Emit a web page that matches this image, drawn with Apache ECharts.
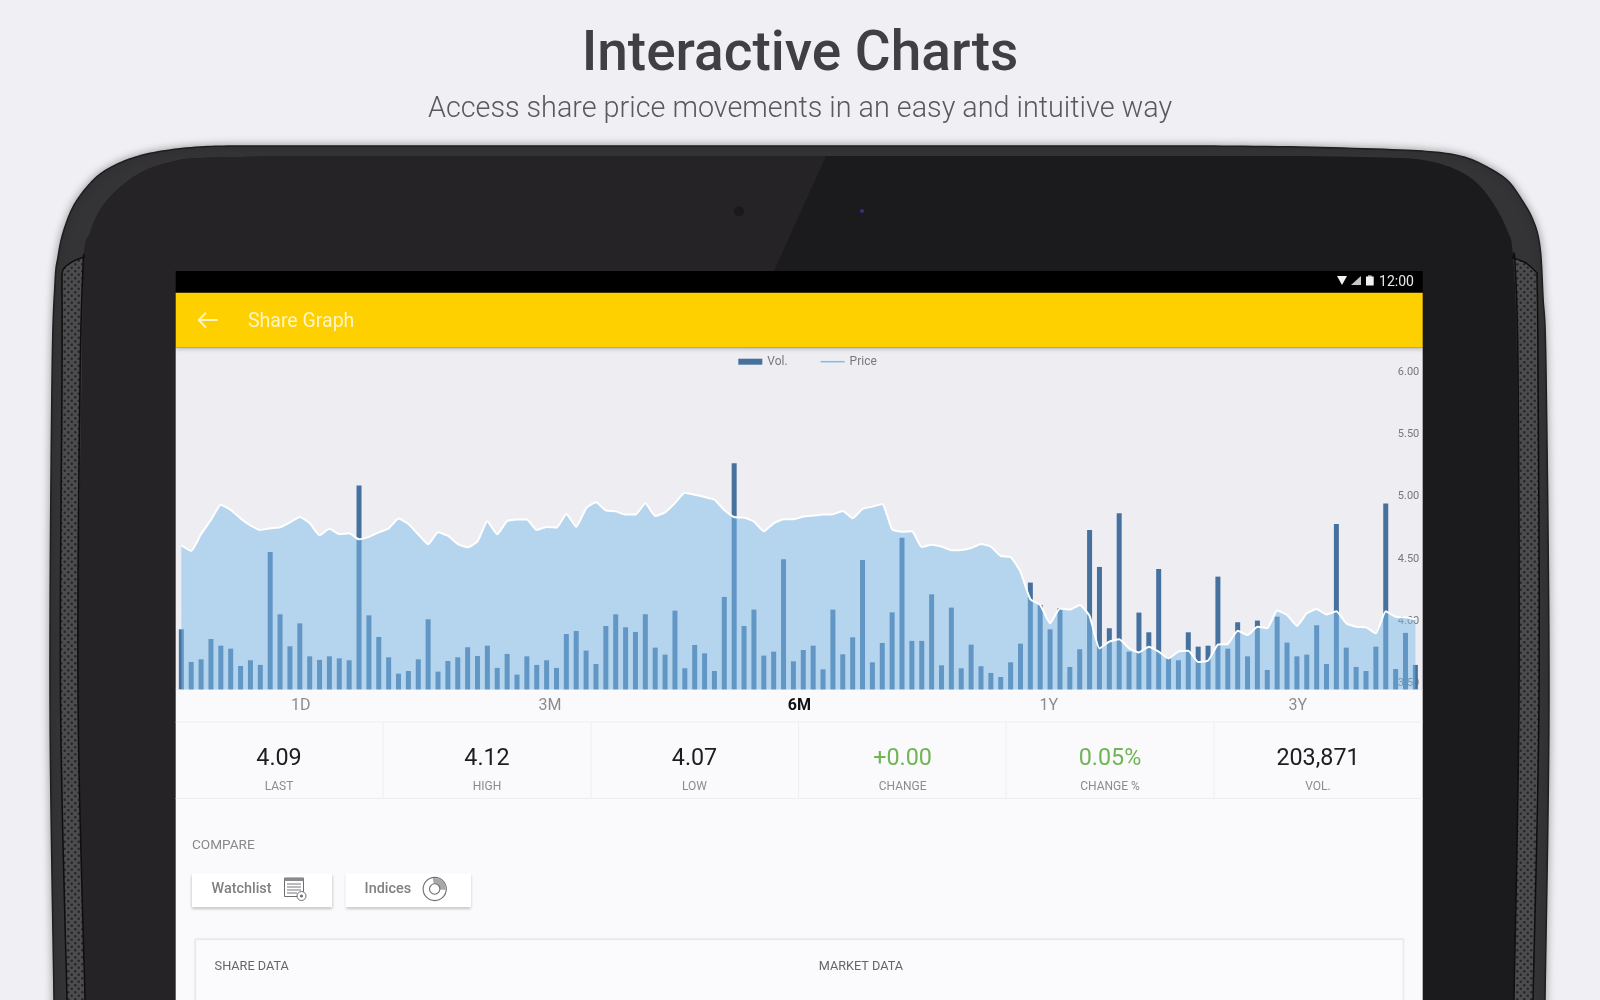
<!DOCTYPE html>
<html>
<head>
<meta charset="utf-8">
<title>Interactive Charts</title>
<script src="https://cdn.jsdelivr.net/npm/echarts@6/dist/echarts.min.js"></script>
<style>
html,body{margin:0;padding:0;background:#f0eff3;}
#chart{width:1600px;height:1000px;}
</style>
</head>
<body>
<div id="chart"></div>
<script>
// ---------- chart data ----------
const prices = [4.61,4.564,4.70,4.813,4.936,4.893,4.826,4.77,4.733,4.746,4.754,4.794,4.837,4.789,4.69,4.743,4.70,4.706,4.658,4.677,4.714,4.746,4.824,4.781,4.698,4.618,4.714,4.687,4.62,4.594,4.642,4.802,4.698,4.805,4.816,4.816,4.733,4.757,4.751,4.861,4.757,4.907,4.955,4.89,4.882,4.856,4.856,4.947,4.845,4.874,4.949,5.032,5.016,4.997,4.976,4.893,4.837,4.832,4.80,4.722,4.786,4.818,4.818,4.84,4.848,4.856,4.858,4.885,4.826,4.901,4.92,4.941,4.738,4.719,4.722,4.596,4.615,4.599,4.57,4.572,4.588,4.62,4.599,4.524,4.516,4.398,4.177,4.131,3.984,4.104,4.094,4.131,4.043,3.783,3.837,3.856,3.783,3.751,3.797,3.757,3.703,3.757,3.765,3.674,3.685,3.813,3.818,3.925,3.89,3.957,3.944,4.086,4.051,3.963,4.064,4.099,4.054,4.08,3.984,3.957,3.952,3.904,4.08,4.037,4.032,4.016];
const volumes = [502,229,251,421,365,340,195,243,204,1149,628,360,552,276,246,276,259,243,1705,619,438,268,131,153,251,586,148,237,268,352,279,365,179,296,123,276,204,243,179,463,488,324,212,530,628,519,480,628,349,290,658,176,371,301,153,773,1892,530,667,282,315,1088,234,329,365,167,667,293,435,1083,226,388,644,1269,405,405,795,201,684,176,374,193,137,103,226,382,893,706,502,678,187,335,1334,1024,511,1473,315,642,477,1007,259,243,477,357,365,943,340,561,276,575,162,608,391,276,290,536,212,1384,349,187,153,357,1554,170,472,204];
const sessions = prices.map((_, i) => String(i + 1));
const priceTicks = [3.5, 4, 4.5, 5, 5.5, 6];
const ranges = ['1D', '3M', '6M', '1Y', '3Y'];
const activeRange = '6M';
const statValues = ['4.09', '4.12', '4.07', '+0.00', '0.05%', '203,871'];
const statLabels = ['LAST', 'HIGH', 'LOW', 'CHANGE', 'CHANGE %', 'VOL.'];

// ---------- helpers ----------
const FF = 'Roboto, "Noto Sans", sans-serif';
const curve = (p) => { // Catmull-Rom sampling for the device outline
  const out = [];
  for (let i = 0; i < p.length - 1; i++) {
    const a = p[Math.max(i - 1, 0)], b = p[i], c = p[i + 1], d = p[Math.min(i + 2, p.length - 1)];
    for (let k = 0; k < 10; k++) {
      const t = k / 10, t2 = t * t, t3 = t2 * t;
      out.push([0, 1].map(j => 0.5 * (2 * b[j] + (c[j] - a[j]) * t + (2 * a[j] - 5 * b[j] + 4 * c[j] - d[j]) * t2 + (3 * b[j] - a[j] - 3 * c[j] + d[j]) * t3)));
    }
  }
  out.push(p[p.length - 1]);
  return out;
};
const T = (text, x, y, font, fill, align) => ({type: 'text', z: 0, silent: true, style: {text, x, y, font: font + ' ' + FF, fill, textAlign: align || 'center', textVerticalAlign: 'middle'}});
const R = (x, y, w, h, fill, extra) => ({type: 'rect', z: 0, silent: true, shape: {x, y, width: w, height: h}, style: Object.assign({fill}, extra || {})});
const L = (x1, y1, x2, y2, stroke, w) => ({type: 'line', z: 0, silent: true, shape: {x1, y1, x2, y2}, style: {stroke, lineWidth: w || 1}});
const P = (points, style) => ({type: 'polygon', z: 0, silent: true, shape: {points}, style});
const C = (cx, cy, r, style) => ({type: 'circle', z: 0, silent: true, shape: {cx, cy, r}, style});

// speaker grille pattern
const pat = document.createElement('canvas');
pat.width = 7; pat.height = 7;
(function () {
  const g = pat.getContext('2d');
  g.fillStyle = '#4c4b4d'; g.fillRect(0, 0, 7, 7);
  g.fillStyle = '#262527';
  [[1.75, 1.75], [5.25, 5.25]].forEach(d => { g.beginPath(); g.arc(d[0], d[1], 1.25, 0, 7); g.fill(); });
})();
const grille = {image: pat, repeat: 'repeat'};

// ---------- device outline ----------
const outer = curve([[54,1010],[54,1000],[50,700],[52,380],[55,283],[58,257],[63,233],[73,207],[87,187],[103,172],[127,160],[157,152],[200,147],[250,146],[400,146]])
  .concat(curve([[1200,146],[1300,147],[1400,150],[1443,153],[1467,158],[1487,167],[1507,180],[1520,197],[1533,220],[1540,247],[1543,297],[1546,370],[1549,700],[1545,1000],[1545,1010]]));
const faceL = curve([[85,1010],[85,1000],[78,700],[82,380],[84,258],[90,233],[100,210],[117,190],[140,173],[167,163],[200,158],[300,156]]);
const faceR = curve([[1300,156],[1400,158],[1433,162],[1457,170],[1477,183],[1493,203],[1507,230],[1513,257],[1517,370],[1519,700],[1514,1000],[1514,1010]]);
const spkL = curve([[62,283],[63,270],[72,262],[84,257]]).concat(curve([[84,257],[83,267],[80,380],[78,700],[85,1000],[85,1010]])).concat(curve([[67,1010],[67,1000],[60.5,700],[62,380],[62,283]]));
const spkR = curve([[1513,258],[1526,263],[1537,273]]).concat(curve([[1537,273],[1538,370],[1539,700],[1533,1000],[1533,1010]])).concat(curve([[1514,1010],[1514,1000],[1519,700],[1518,370],[1515,263],[1513,258]]));

const sx = 175.7, sr = 1422.7, sw = sr - sx;
const elements = [
  P(outer, {fill: '#343335', stroke: '#1e1d1f', lineWidth: 1.5, shadowBlur: 8, shadowColor: 'rgba(0,0,0,0.35)'}),
  P(faceL.concat(faceR), {fill: '#1b1a1c'}),
  P(faceL.concat([[826,156],[774,271],[500,1010]]), {fill: '#252326'}),
  P(spkL, {fill: grille, stroke: '#0e0e0f', lineWidth: 1.5}),
  P(spkR, {fill: grille, stroke: '#0e0e0f', lineWidth: 1.5}),
  C(739, 211.5, 5, {fill: '#1a191b'}),
  C(862, 211, 2, {fill: '#3b2d86'}),
  // screen
  R(sx, 271, sw, 22, '#000000'),
  R(sx, 347.7, sw, 342, '#eeedf2'),
  R(sx, 689.3, sw, 311, '#faf9fb'),
  R(sx, 292.7, sw, 55, '#ffd000', {shadowBlur: 4, shadowColor: 'rgba(0,0,0,0.25)', shadowOffsetY: 1}),
  // status bar
  P([[1337,276],[1347,276],[1342,285]], {fill: '#f2f2f2'}),
  P([[1351,285],[1361,276],[1361,285]], {fill: '#c8c8c8'}),
  R(1366, 276.5, 7.7, 9, '#f2f2f2'),
  R(1368, 275.5, 3.7, 1.2, '#f2f2f2'),
  T('12:00', 1396.5, 282.2, '14px', '#e8e8e8'),
  // app bar
  {type: 'polyline', z: 0, silent: true, shape: {points: [[206,312.7],[198.8,320],[206,327.6]]}, style: {stroke: '#fff4c4', lineWidth: 2, fill: null}},
  L(199, 320, 217.7, 320, '#fff4c4', 2),
  T('Share Graph', 248, 321.7, '19.5px', '#fff5c8', 'left'),
  // stats rows
  L(sx, 722, sr, 722, '#eeedf0'),
  L(sx, 798.5, sr, 798.5, '#eeedf0'),
  L(383, 722, 383, 798, '#efeef1'), L(591, 722, 591, 798, '#efeef1'), L(798.6, 722, 798.6, 798, '#efeef1'),
  L(1006, 722, 1006, 798, '#efeef1'), L(1214, 722, 1214, 798, '#efeef1'),
  // compare
  T('COMPARE', 192, 846, '13.6px', '#88888a', 'left'),
  R(192, 873.3, 140, 34, '#ffffff', {shadowBlur: 3, shadowColor: 'rgba(0,0,0,0.3)', shadowOffsetY: 1.5}),
  R(345.5, 873.3, 125.5, 34, '#ffffff', {shadowBlur: 3, shadowColor: 'rgba(0,0,0,0.3)', shadowOffsetY: 1.5}),
  T('Watchlist', 211.5, 889.7, '500 14.4px', '#808083', 'left'),
  T('Indices', 364.6, 889.7, '500 14.4px', '#808083', 'left'),
  R(284.5, 878, 19, 18.5, 'none', {stroke: '#6e6e70', lineWidth: 1}),
  R(284.5, 878, 19, 3, '#8a8a8c'),
  L(287,884,301,884,'#77777a'), L(287,887,301,887,'#77777a'), L(287,890,301,890,'#77777a'), L(287,893,297,893,'#77777a'),
  C(301.5, 896, 4.5, {fill: '#ffffff', stroke: '#6e6e70', lineWidth: 1}),
  C(301.5, 896, 1.6, {fill: '#6e6e70'}),
  C(434.7, 889, 11.6, {fill: '#ffffff', stroke: '#6e6e70', lineWidth: 1.1}),
  {type: 'sector', z: 0, silent: true, shape: {cx: 434.7, cy: 889, r: 11, r0: 0, startAngle: -1.75, endAngle: 0.1}, style: {fill: '#a8a8aa'}},
  C(434.7, 889, 5.2, {fill: '#ffffff', stroke: '#6e6e70', lineWidth: 1.1}),
  // card
  R(195.4, 939.3, 1208, 70, '#fbfafc', {stroke: '#e9e8eb', lineWidth: 1, shadowBlur: 2, shadowColor: 'rgba(0,0,0,0.08)'}),
  T('SHARE DATA', 214.6, 967, '12.7px', '#666668', 'left'),
  T('MARKET DATA', 818.7, 967, '12.7px', '#666668', 'left')
];
// range selector
const rangeX = [300.8, 550, 799.3, 1048.7, 1297.7];
ranges.forEach((r, i) => elements.push(T(r, rangeX[i], 706, (r === activeRange ? '700 ' : '') + '16px', r === activeRange ? '#111111' : '#8c8c8e')));
// stats
const statX = [279, 487, 694.5, 902.6, 1110, 1318];
statValues.forEach((v, i) => {
  elements.push(T(v, statX[i], 758.7, '23.3px', v[0] === '+' || v.endsWith('%') ? '#6fb554' : '#1d1d1f'));
  elements.push(T(statLabels[i], statX[i], 787, '12px', '#8c8c8e'));
});

// ---------- chart ----------
const chart = echarts.init(document.getElementById('chart'), null, {renderer: 'canvas'});
chart.setOption({
  animation: false,
  backgroundColor: '#f0eff3',
  title: [
    {text: 'Interactive Charts', left: 'center', top: 29, padding: 0, textStyle: {fontFamily: FF, fontSize: 55, fontWeight: 500, color: '#404042'}},
    {text: 'Access share price movements in an easy and intuitive way', left: 'center', top: 95.5, padding: 0, textStyle: {fontFamily: FF, fontSize: 28.75, fontWeight: 300, color: '#59595b'}}
  ],
  legend: {
    left: 738.3, top: 355.7, padding: 0, itemWidth: 24, itemHeight: 6, itemGap: 33, selectedMode: false,
    textStyle: {fontFamily: FF, fontSize: 12, color: '#78787c'},
    data: [
      {name: 'Vol.', icon: 'rect', itemStyle: {color: '#46719f'}},
      {name: 'Price', icon: 'path://M0 0L0 0M0 4.5H48V7.5H0ZM48 12L48 12', itemStyle: {color: '#7ebcea'}}
    ]
  },
  grid: {left: 176.4, top: 359.5, width: 1243.9, height: 329.8, containLabel: false},
  xAxis: {type: 'category', data: sessions, boundaryGap: true, axisLine: {show: false}, axisTick: {show: false}, axisLabel: {show: false}, splitLine: {show: false}},
  yAxis: [
    {type: 'value', position: 'right', min: 3.455, max: 6.1, axisLine: {show: false}, axisTick: {show: false}, splitLine: {show: false},
      axisLabel: {inside: true, margin: 1, verticalAlign: 'middle', padding: [2, 0, 0, 0], customValues: priceTicks, formatter: v => v.toFixed(2), fontFamily: FF, fontSize: 11, color: '#77777b'}},
    {type: 'value', position: 'left', min: 0, max: 2760, show: false}
  ],
  series: [
    {name: 'Vol.', type: 'bar', yAxisIndex: 1, data: volumes, barWidth: 5, z: 2, itemStyle: {color: '#46719f'}},
    {name: 'Price', type: 'line', yAxisIndex: 0, data: prices, z: 3, showSymbol: false, symbol: 'none', smooth: 0.15,
      lineStyle: {color: '#ffffff', width: 2}, areaStyle: {color: '#7ebcea', opacity: 0.51, origin: 'start'}}
  ],
  graphic: {elements}
});
</script>
</body>
</html>
